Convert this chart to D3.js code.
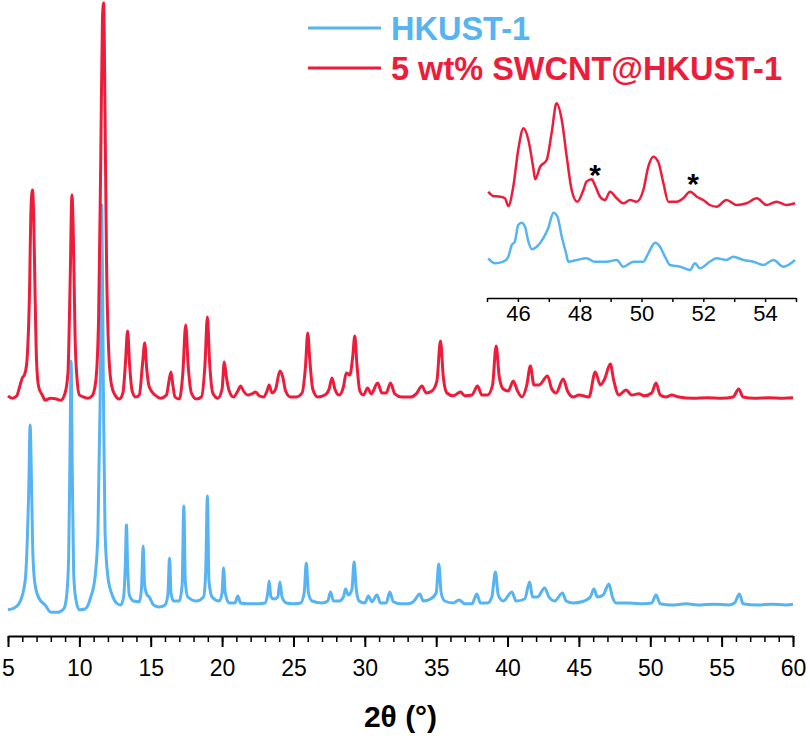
<!DOCTYPE html>
<html>
<head>
<meta charset="utf-8">
<script src="https://cdn.jsdelivr.net/npm/d3@7"></script>
<style>
  body { margin: 0; background: #fff; }
  svg { display: block; }
  text { font-family: "Liberation Sans", Arial, Helvetica, sans-serif; }
</style>
</head>
<body>
<svg width="810" height="739"></svg>
<script>
var width = 810,
    height = 739;

var blueColor = "#56b4f2",
    redColor = "#ee1c3b";

var seriesNames = ["HKUST-1", "5 wt% SWCNT@HKUST-1"];
var mainTicks = d3.range(5, 61, 5);
var insetTicks = [46, 48, 50, 52, 54];

// vertical offsets of the red trace (a.u.), main plot and inset
var redOffset = 52;
var insetRedOffset = 6;

// [2theta, intensity a.u.]
var hkust = [
    [5.0, -1.2], [5.4, -0.8], [5.8, 0.5], [6.2, 6], [6.35, 16], [6.45, 28], [6.55, 45], [6.65, 30], [6.75, 12], [6.9, 5],
    [7.2, 1.5], [7.6, 0], [8.0, -1.8], [8.5, -1.8], [8.9, -1], [9.1, 2], [9.25, 12], [9.35, 40], [9.42, 61], [9.5, 35],
    [9.6, 8], [9.75, 1.5], [10.0, -1.2], [10.4, -1], [10.8, 2], [11.1, 7], [11.3, 18], [11.45, 50], [11.57, 100], [11.68, 55],
    [11.8, 18], [12.0, 7], [12.3, 2.5], [12.6, 0.5], [12.9, 0], [13.1, 2], [13.22, 10], [13.3, 20], [13.38, 10], [13.5, 2.5],
    [13.8, 1], [14.2, 0.8], [14.35, 4], [14.47, 14.75], [14.57, 5], [14.75, 2.5], [14.9, 2], [15.2, 0], [15.6, -0.5], [16.0, 0],
    [16.2, 2.5], [16.32, 11.75], [16.42, 3], [16.6, 1], [17.0, 1], [17.2, 5], [17.32, 24.75], [17.42, 6], [17.6, 2], [18.2, 1],
    [18.7, 2], [18.85, 8], [18.97, 27.25], [19.08, 6], [19.3, 2], [19.8, 1], [20.0, 3], [20.1, 9.25], [20.22, 3], [20.5, 0.5],
    [20.9, 0.5], [21.1, 2.25], [21.3, 0.5], [21.8, 0.3], [22.5, 0.3], [23.0, 0.5], [23.2, 3], [23.3, 6], [23.42, 2], [23.65, 1.5],
    [23.9, 2], [24.05, 5.75], [24.2, 2], [24.5, 0.5], [25.0, 0.3], [25.5, 0.5], [25.75, 3], [25.9, 10.5], [26.05, 3], [26.3, 1],
    [27.0, 0.5], [27.4, 1], [27.6, 3.25], [27.8, 1], [28.2, 1], [28.5, 2], [28.65, 4], [28.85, 2.5], [29.1, 4], [29.25, 10.75],
    [29.4, 4], [29.6, 1], [30.0, 0.5], [30.25, 2.25], [30.5, 0.8], [30.85, 2.5], [31.1, 0.5], [31.5, 0.5], [31.75, 3.25], [32.0, 0.8],
    [32.5, 0.3], [33.0, 0.3], [33.4, 0.8], [33.85, 2.75], [34.1, 1], [34.6, 1.5], [35.0, 3], [35.18, 10.25], [35.35, 3], [35.6, 1],
    [36.2, 0.5], [36.6, 1.25], [37.0, 0.3], [37.5, 0.3], [37.85, 2.75], [38.1, 0.5], [38.6, 0.5], [38.9, 2], [39.15, 8.25], [39.35, 2.5],
    [39.7, 1], [40.3, 3.25], [40.6, 1], [41.2, 1.5], [41.55, 5.75], [41.75, 2], [42.1, 2], [42.6, 4.25], [42.9, 2], [43.3, 1],
    [43.85, 3], [44.1, 1], [44.6, 0.5], [45.2, 0.8], [45.8, 2], [46.05, 4], [46.3, 2], [46.7, 2.5], [47.1, 5.25], [47.35, 2],
    [47.6, 0.5], [48.5, 0.5], [49.5, 0.3], [50.1, 0.5], [50.4, 2.5], [50.7, 0.3], [51.5, 0], [52.5, 0.3], [53.5, 0], [54.5, 0.2],
    [55.5, 0], [55.9, 0.5], [56.25, 2.75], [56.5, 0.3], [57.5, 0], [58.5, 0.2], [59.5, 0], [60.0, 0.2]
];

var composite = [
    [5.0, 0.3], [5.3, -0.3], [5.6, 0.2], [5.85, 3], [6.0, 4.75], [6.15, 5.5], [6.3, 8], [6.5, 25], [6.62, 48], [6.72, 51.75],
    [6.8, 45], [6.9, 25], [7.0, 9], [7.15, 2.5], [7.4, 0.5], [7.6, -0.8], [8.0, -0.3], [8.4, -0.5], [8.7, -0.8], [9.0, 1],
    [9.2, 6], [9.35, 28], [9.48, 50.5], [9.58, 40], [9.7, 15], [9.85, 4], [10.0, 0.5], [10.3, 0], [10.6, -0.3], [10.9, 0.3],
    [11.15, 4], [11.35, 20], [11.5, 60], [11.62, 95], [11.7, 98.5], [11.8, 70], [11.9, 35], [12.05, 12], [12.25, 3], [12.5, 0.5],
    [12.8, -0.5], [13.05, 1], [13.22, 8], [13.38, 16.5], [13.52, 8], [13.7, 1.5], [13.95, 0], [14.2, 0.5], [14.42, 8], [14.58, 13.5],
    [14.72, 7], [14.9, 2.5], [15.3, 0.5], [15.7, -0.3], [16.1, 0.5], [16.28, 4], [16.42, 6.25], [16.55, 3], [16.7, 0], [17.0, -0.5],
    [17.25, 6], [17.45, 18], [17.62, 8], [17.85, 1], [18.2, -0.5], [18.55, 0], [18.8, 8], [18.97, 20], [19.12, 9], [19.35, 1],
    [19.7, -0.3], [20.0, 2], [20.15, 8.75], [20.3, 5], [20.5, 1.5], [20.8, 0], [21.1, 1.5], [21.3, 2.75], [21.5, 1.5], [21.8, 0.5],
    [22.1, 0.8], [22.35, 1.25], [22.6, 0.3], [22.9, 0], [23.15, 1.5], [23.3, 3], [23.5, 1], [23.75, 2], [24.05, 6.5], [24.25, 5],
    [24.45, 1.5], [24.8, 0], [25.2, 0], [25.6, 1], [25.85, 8], [26.0, 16], [26.15, 9], [26.35, 2], [26.7, 0], [27.2, 0.5],
    [27.5, 2], [27.7, 4.75], [27.9, 2], [28.2, 0.5], [28.5, 2.5], [28.7, 6], [28.95, 5.5], [29.15, 10], [29.3, 15.25], [29.45, 8],
    [29.65, 1.5], [29.9, 0.5], [30.2, 2.25], [30.45, 0.8], [30.9, 3.5], [31.2, 1], [31.5, 1], [31.8, 3.5], [32.1, 0.8], [32.6, 0],
    [33.2, 0], [33.6, 0.8], [34.0, 2.75], [34.3, 1], [34.7, 1.5], [35.05, 4], [35.3, 14], [35.5, 5], [35.75, 1], [36.2, 0.3],
    [36.7, 1.25], [37.0, 0.3], [37.5, 0.5], [37.9, 2.75], [38.2, 0.5], [38.6, 0.5], [38.95, 3], [39.2, 12.75], [39.42, 5], [39.7, 2],
    [40.05, 1.5], [40.4, 4], [40.7, 1.5], [41.0, 0], [41.35, 3], [41.6, 7.75], [41.85, 3], [42.2, 3], [42.8, 5.25], [43.1, 2],
    [43.4, 1], [43.9, 4.5], [44.2, 1.5], [44.6, 0], [45.0, 0.5], [45.7, 0], [46.15, 6.25], [46.5, 3], [46.8, 4.5], [47.2, 8.25],
    [47.45, 4], [47.8, 0.5], [48.3, 1.75], [48.7, 0.5], [49.2, 0.8], [49.6, 0.3], [50.1, 1], [50.4, 3.5], [50.7, 0.5], [51.1, 0],
    [51.5, 0.5], [52.0, 0], [53.0, -0.3], [54.0, -0.2], [55.0, -0.3], [55.8, 0], [56.2, 2], [56.5, 0], [57.3, -0.3], [58.3, -0.2],
    [59.3, -0.3], [60.0, -0.2]
];

// inset, 45-55 degrees
var hkustInset = [
    [45.04, 0.37], [45.26, -0.13], [45.53, 0.03], [45.69, 0.53], [45.8, 1.7], [45.9, 2.03], [46.01, 3.7], [46.12, 3.93], [46.23, 3.53], [46.34, 2.03],
    [46.45, 1.27], [46.61, 1.53], [46.82, 2.37], [46.98, 3.37], [47.15, 4.93], [47.28, 4.53], [47.42, 2.53], [47.56, 0.87], [47.63, 0.03], [47.9, 0.2],
    [48.22, 0.37], [48.49, 0.03], [48.87, 0.03], [49.2, 0.2], [49.41, -0.47], [49.74, 0.03], [50.06, 0.03], [50.22, 0.87], [50.44, 1.93], [50.6, 1.53],
    [50.76, 0.53], [50.92, -0.3], [51.25, -0.47], [51.57, -0.8], [51.73, -0.13], [51.89, -0.63], [52.21, 0.03], [52.43, 0.37], [52.75, 0.2], [52.97, 0.53],
    [53.3, 0.2], [53.62, 0.03], [53.94, -0.3], [54.27, 0.2], [54.59, -0.47], [54.97, 0.2]
];

var compositeInset = [
    [45.04, 1.03], [45.2, 0.6], [45.42, 0.53], [45.58, 0.37], [45.69, -0.4], [45.85, 1.53], [46.01, 5.2], [46.18, 7.37], [46.34, 6.2], [46.5, 3.37],
    [46.56, 2.27], [46.72, 3.53], [46.93, 4.2], [47.09, 6.87], [47.25, 9.87], [47.42, 8.2], [47.58, 4.53], [47.74, 1.2], [47.92, 0.03], [48.12, 1.2],
    [48.22, 2.03], [48.39, 2.27], [48.49, 1.7], [48.66, 0.53], [48.82, 0.2], [48.98, 1.03], [49.2, 0.37], [49.41, -0.13], [49.63, 0.2], [49.84, 0.03],
    [50.06, 1.2], [50.22, 3.53], [50.38, 4.53], [50.54, 4.03], [50.71, 1.87], [50.87, 0.03], [51.14, 0.03], [51.35, 0.37], [51.57, 1.03], [51.79, 0.53],
    [52.0, 0.2], [52.21, -0.3], [52.43, -0.47], [52.75, 0.2], [53.08, -0.3], [53.4, -0.13], [53.73, 0.37], [54.05, -0.3], [54.37, 0.03], [54.7, -0.3],
    [54.97, -0.13]
];

// asterisks over the SWCNT reflections (inset units, red trace)
var stars = [[48.5, 3.4], [51.67, 2.5]];

var svg = d3.select("svg");

// main plot scales
var x = d3.scaleLinear().domain([5, 60]).range([8, 793]);
var y = d3.scaleLinear().domain([0, 100]).range([605, 205]);
var axisY = 636;

var line = d3.line()
    .x(function (d) { return x(d[0]); })
    .y(function (d) { return y(d[1]); })
    .curve(d3.curveMonotoneX);

var lineRed = d3.line()
    .x(function (d) { return x(d[0]); })
    .y(function (d) { return y(d[1] + redOffset); })
    .curve(d3.curveMonotoneX);

svg.append("path").datum(hkust)
    .attr("d", line)
    .attr("fill", "none")
    .attr("stroke", blueColor)
    .attr("stroke-width", 3)
    .attr("stroke-linejoin", "round");

svg.append("path").datum(composite)
    .attr("d", lineRed)
    .attr("fill", "none")
    .attr("stroke", redColor)
    .attr("stroke-width", 3)
    .attr("stroke-linejoin", "round");

// x axis: minor ticks every degree, major every 5
var minorAxis = svg.append("g")
    .attr("transform", "translate(0," + axisY + ")")
    .call(d3.axisBottom(x).tickValues(d3.range(5, 61, 1)).tickSize(6).tickSizeOuter(0).tickFormat(""));
minorAxis.select(".domain").remove();
minorAxis.selectAll("line").attr("stroke-width", 1.5);

var majorAxis = svg.append("g")
    .attr("transform", "translate(0," + axisY + ")")
    .call(d3.axisBottom(x).tickValues(mainTicks).tickSize(11).tickSizeOuter(0).tickPadding(13));
majorAxis.select(".domain").attr("stroke-width", 2);
majorAxis.selectAll("line").attr("stroke-width", 2);
majorAxis.selectAll("text").attr("font-size", 23).attr("fill", "#000");

svg.append("text")
    .attr("x", (x(5) + x(60)) / 2)
    .attr("y", 727)
    .attr("text-anchor", "middle")
    .attr("font-size", 30)
    .attr("font-weight", "bold")
    .text("2θ (°)");

// legend
var legendRows = [
    { name: seriesNames[0], color: blueColor, y: 28 },
    { name: seriesNames[1], color: redColor, y: 68 }
];
var legend = svg.append("g");
legend.selectAll("line").data(legendRows).join("line")
    .attr("x1", 308).attr("x2", 381)
    .attr("y1", function (d) { return d.y; })
    .attr("y2", function (d) { return d.y; })
    .attr("stroke", function (d) { return d.color; })
    .attr("stroke-width", 3);
legend.selectAll("text").data(legendRows).join("text")
    .attr("x", 391)
    .attr("y", function (d) { return d.y + 11.5; })
    .attr("font-size", 32.5)
    .attr("font-weight", "bold")
    .attr("fill", function (d) { return d.color; })
    .text(function (d) { return d.name; });

// inset
var xi = d3.scaleLinear().domain([45, 55]).range([487, 796]);
var yi = d3.scaleLinear().domain([0, 10]).range([262, 162]);
var insetAxisY = 298;

var insetLine = d3.line()
    .x(function (d) { return xi(d[0]); })
    .y(function (d) { return yi(d[1]); })
    .curve(d3.curveMonotoneX);

var insetLineRed = d3.line()
    .x(function (d) { return xi(d[0]); })
    .y(function (d) { return yi(d[1] + insetRedOffset); })
    .curve(d3.curveMonotoneX);

svg.append("path").datum(hkustInset)
    .attr("d", insetLine)
    .attr("fill", "none")
    .attr("stroke", blueColor)
    .attr("stroke-width", 2.5)
    .attr("stroke-linejoin", "round");

svg.append("path").datum(compositeInset)
    .attr("d", insetLineRed)
    .attr("fill", "none")
    .attr("stroke", redColor)
    .attr("stroke-width", 2.5)
    .attr("stroke-linejoin", "round");

var insetAxis = svg.append("g")
    .attr("transform", "translate(0," + insetAxisY + ")")
    .call(d3.axisBottom(xi).tickValues(d3.range(45, 56, 1)).tickSize(4).tickSizeOuter(0)
        .tickPadding(3)
        .tickFormat(function (d) { return insetTicks.indexOf(d) >= 0 ? d : ""; }));
insetAxis.select(".domain").attr("stroke-width", 1.5);
insetAxis.selectAll("line").attr("stroke-width", 1.5);
insetAxis.selectAll("text").attr("font-size", 22).attr("fill", "#000");

svg.append("g").selectAll("text").data(stars).join("text")
    .attr("x", function (d) { return xi(d[0]); })
    .attr("y", function (d) { return yi(d[1] + insetRedOffset) + 17; })
    .attr("text-anchor", "middle")
    .attr("font-size", 30)
    .attr("font-weight", "bold")
    .attr("fill", "#000")
    .text("*");
</script>
</body>
</html>
